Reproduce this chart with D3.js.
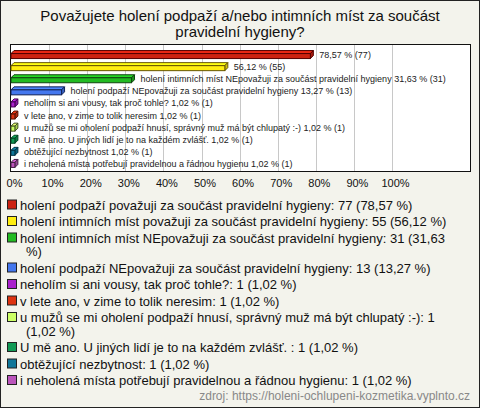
<!DOCTYPE html>
<html><head><meta charset="utf-8">
<script src="https://cdn.jsdelivr.net/npm/d3@7"></script>
<style>
html,body{margin:0;padding:0;background:#f3f3ec;}
svg{display:block;font-family:"Liberation Sans",Arial,sans-serif;}
</style></head>
<body>
<script>
const titleLines = ["Považujete holení podpaží a/nebo intimních míst za součást", "pravidelní hygieny?"];
const categories = [
  "holení podpaží považuji za součást pravidelní hygieny",
  "holení intimních míst považuji za součást pravidelní hygieny",
  "holení intimních míst NEpovažuji za součást pravidelní hygieny",
  "holení podpaží NEpovažuji za součást pravidelní hygieny",
  "neholím si ani vousy, tak proč tohle?",
  "v lete ano, v zime to tolik neresim",
  "u mužů se mi oholení podpaží hnusí, správný muž má být chlupatý :-)",
  "U mě ano. U jiných lidí je to na každém zvlášť. ",
  "obtěžující nezbytnost",
  "i neholená místa potřebují pravidelnou a řádnou hygienu"
];
const counts = [77, 55, 31, 13, 1, 1, 1, 1, 1, 1];
const percents = [78.57, 56.12, 31.63, 13.27, 1.02, 1.02, 1.02, 1.02, 1.02, 1.02];
const labelWithCategory = [false, false, true, true, true, true, true, true, true, true];
const tickValues = [0, 10, 20, 30, 40, 50, 60, 70, 80, 90, 100];
const sourceText = "zdroj: https://holeni-ochlupeni-kozmetika.vyplnto.cz";

const fills   = ["#cc2211", "#ffee11", "#22bb22", "#4477ee", "#aa22cc", "#dd3311", "#ccff66", "#119955", "#117799", "#bb55bb"];
const strokes = ["#550000", "#665500", "#114411", "#112255", "#440055", "#551100", "#445522", "#044422", "#043344", "#442244"];

const W = 480, H = 408;
const fmt = v => v.toFixed(2).replace(".", ",");

const svg = d3.select("body").append("svg").attr("width", W).attr("height", H);
svg.append("rect").attr("x", 0.5).attr("y", 0.5).attr("width", W - 1).attr("height", H - 1)
  .attr("fill", "#f3f3ec").attr("stroke", "#222");

// title
svg.append("g").selectAll("text").data(titleLines).join("text")
  .attr("x", 240).attr("y", (d, i) => 21 + i * 16)
  .attr("text-anchor", "middle").attr("font-size", 15).attr("fill", "#111").text(d => d);

// plot area
const plot = {l: 10.5, t: 44.5, r: 470.5, b: 171.5};
svg.append("rect").attr("x", plot.l).attr("y", plot.t).attr("width", plot.r - plot.l).attr("height", plot.b - plot.t)
  .attr("fill", "#fff");

const x = d3.scaleLinear().domain([0, 100]).range([11, 392]);
const y = d3.scaleBand().domain(categories).range([49, 170]);

// grid
svg.append("g").selectAll("line").data(tickValues.filter(v => v > 0)).join("line")
  .attr("x1", d => Math.round(x(d)) + 0.5).attr("x2", d => Math.round(x(d)) + 0.5)
  .attr("y1", plot.t).attr("y2", plot.b).attr("stroke", "#c8c8c8").attr("stroke-width", 1);

svg.append("rect").attr("x", plot.l).attr("y", plot.t).attr("width", plot.r - plot.l).attr("height", plot.b - plot.t)
  .attr("fill", "none").attr("stroke", "#111");

// axis labels
const axis = d3.axisBottom(x).tickValues(tickValues).tickFormat(d => d + "%").tickSize(0).tickPadding(0);
const ag = svg.append("g").attr("transform", "translate(0,179)").call(axis);
ag.select(".domain").remove();
ag.selectAll("text").attr("font-size", 11).attr("fill", "#111")
  .attr("font-family", "'Liberation Sans',Arial,sans-serif").attr("dx", 3);

// bars (3D style)
const d3depth = 3, bh = 5;
const rows = categories.map((c, i) => ({c, i, p: percents[i], n: counts[i]}));
const bars = svg.append("g").selectAll("g").data(rows).join("g");
bars.each(function(d) {
  const g = d3.select(this);
  const cy = y(d.c) + y.bandwidth() / 2;
  const x0 = x(0), x1 = x(d.p);
  const top = cy - 1.5, bot = top + bh;
  g.append("path").attr("d", `M${x0},${top}L${x0 + d3depth},${top - d3depth}L${x1 + d3depth},${top - d3depth}L${x1},${top}Z`)
    .attr("fill", d3.color(fills[d.i]).brighter(0.4)).attr("stroke", strokes[d.i]).attr("stroke-width", 1).attr("stroke-linejoin", "round");
  g.append("path").attr("d", `M${x1},${top}L${x1 + d3depth},${top - d3depth}L${x1 + d3depth},${bot - d3depth}L${x1},${bot}Z`)
    .attr("fill", d3.color(fills[d.i]).darker(0.6)).attr("stroke", strokes[d.i]).attr("stroke-width", 1).attr("stroke-linejoin", "round");
  g.append("rect").attr("x", x0).attr("y", top).attr("width", x1 - x0).attr("height", bh)
    .attr("fill", fills[d.i]).attr("stroke", strokes[d.i]).attr("stroke-width", 1);
  g.append("text").attr("x", x1 + d3depth + 6).attr("y", cy + 3)
    .attr("font-size", 9).attr("fill", "#222")
    .text((labelWithCategory[d.i] ? d.c.trim() + " " : "") + `${fmt(d.p)} % (${d.n})`);
});

// legend
const lg = svg.append("g");
let ly = 209.5;
const maxRight = 460;
rows.forEach(d => {
  const label = `${d.c}: ${d.n} (${fmt(d.p)} %)`;
  lg.append("rect").attr("x", 7.5).attr("y", ly - 9.5).attr("width", 9).attr("height", 9)
    .attr("fill", fills[d.i]).attr("stroke", "#222");
  const words = label.split(" ");
  let line = [], lineNo = 0;
  let t = lg.append("text").attr("x", 20).attr("y", ly).attr("font-size", 13).attr("fill", "#111");
  words.forEach(w => {
    line.push(w);
    t.text(line.join(" "));
    if (t.node().getComputedTextLength() + (lineNo ? 26 : 20) > maxRight && line.length > 1) {
      line.pop();
      t.text(line.join(" "));
      line = [w];
      lineNo++;
      ly += 13.5;
      t = lg.append("text").attr("x", 26).attr("y", ly).attr("font-size", 13).attr("fill", "#111").text(w);
    }
  });
  ly += 16.5;
});

svg.append("text").attr("x", 470).attr("y", 400).attr("text-anchor", "end")
  .attr("font-size", 12).attr("fill", "#888").text(sourceText);
</script>
</body></html>
